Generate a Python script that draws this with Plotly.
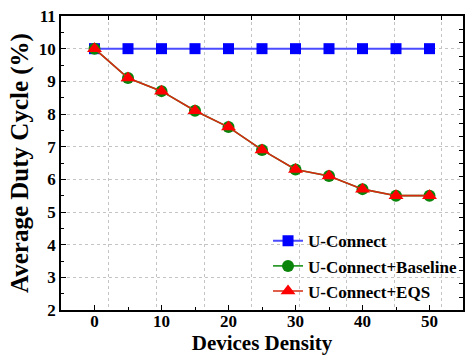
import plotly.graph_objects as go

# Device density on the x axis and average duty cycle (%) per scheme
density = [0, 5, 10, 15, 20, 25, 30, 35, 40, 45, 50]
u_connect = [10, 10, 10, 10, 10, 10, 10, 10, 10, 10, 10]
u_connect_baseline = [10, 9.1, 8.7, 8.1, 7.6, 6.9, 6.3, 6.1, 5.7, 5.5, 5.5]
u_connect_eqs = [10, 9.1, 8.7, 8.1, 7.6, 6.9, 6.3, 6.1, 5.7, 5.5, 5.5]

x_ticks = [0, 10, 20, 30, 40, 50]
y_ticks = [2, 3, 4, 5, 6, 7, 8, 9, 10, 11]
x_range = [-5, 55]
y_range = [2, 11]

FONT = "Liberation Serif"

fig = go.Figure()
fig.add_trace(go.Scatter(
    x=density, y=u_connect, name="U-Connect", mode="lines+markers",
    line=dict(color="#4a4aff", width=2),
    marker=dict(symbol="square", size=11, color="#0000ff"),
))
fig.add_trace(go.Scatter(
    x=density, y=u_connect_baseline, name="U-Connect+Baseline", mode="lines+markers",
    line=dict(color="#2e9a2e", width=1.6),
    marker=dict(symbol="circle", size=12, color="#0a840a"),
))
# EQS sits on the frame axes (same ranges), which also puts it on top
fig.add_trace(go.Scatter(
    x=density, y=u_connect_eqs, name="U-Connect+EQS", mode="lines+markers",
    xaxis="x2", yaxis="y2",
    line=dict(color="#d42a10", width=1.6),
    marker=dict(symbol="triangle-up", size=13, color="#ff0000"),
))

axis_font = dict(family=FONT, size=17, color="black", weight="bold")

fig.update_layout(
    width=465, height=355,
    margin=dict(l=61, r=2, t=16, b=45),
    paper_bgcolor="white", plot_bgcolor="white",
    showlegend=True,
    legend=dict(
        x=0.515, y=0.295, xanchor="left", yanchor="top",
        bgcolor="rgba(0,0,0,0)", borderwidth=0,
        font=dict(family=FONT, size=17, color="black", weight="bold"),
        tracegroupgap=0, itemwidth=30,
    ),
    xaxis=dict(
        range=x_range, tickvals=x_ticks,
        ticks="inside", ticklen=5, tickwidth=1.2, tickcolor="black",
        minor=dict(dtick=5, tick0=0, ticks="inside", ticklen=3, tickcolor="black", showgrid=False),
        showline=True, linecolor="black", linewidth=1.6,
        showgrid=False, zeroline=False,
        tickfont=axis_font, ticklabelstandoff=-5,
        title=dict(text="Devices Density", font=dict(family=FONT, size=21, color="black", weight="bold"),
                   standoff=5),
    ),
    yaxis=dict(
        range=y_range, tickvals=y_ticks,
        ticks="inside", ticklen=5, tickwidth=1.2, tickcolor="black",
        minor=dict(dtick=0.5, tick0=2, ticks="inside", ticklen=3, tickcolor="black", showgrid=False),
        showline=True, linecolor="black", linewidth=1.6,
        showgrid=True, gridcolor="#c4c4c4", griddash="dot", gridwidth=1,
        zeroline=False,
        tickfont=axis_font,
        title=dict(text="Average Duty Cycle (%)", font=dict(family=FONT, size=25, color="black", weight="bold"),
                   standoff=3),
    ),
    # Frame axes on top and right carry their own tick spacing
    xaxis2=dict(
        overlaying="x", side="top", range=x_range,
        tick0=2.15, dtick=7.1,
        ticks="inside", ticklen=4, tickwidth=1.2, tickcolor="black",
        showticklabels=False,
        showline=True, linecolor="black", linewidth=1.6,
        showgrid=True, gridcolor="#c4c4c4", griddash="dot", gridwidth=1,
        zeroline=False,
    ),
    yaxis2=dict(
        overlaying="y", side="right", range=y_range,
        tick0=2.387, dtick=0.41,
        ticks="inside", ticklen=4, tickwidth=1.2, tickcolor="black",
        showticklabels=False,
        showline=True, linecolor="black", linewidth=1.6,
        showgrid=False, zeroline=False,
    ),
)

fig.write_html("out.html")
